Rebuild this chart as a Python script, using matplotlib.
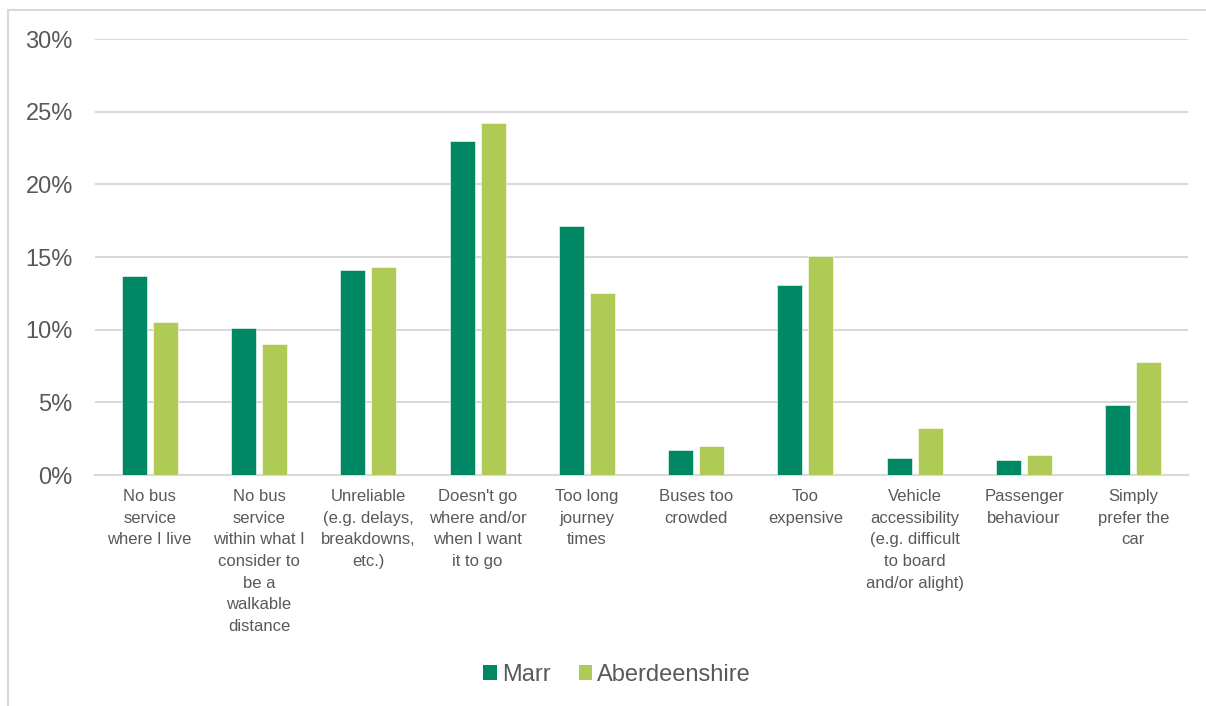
import matplotlib
matplotlib.use("Agg")
import matplotlib.pyplot as plt
from matplotlib.lines import Line2D
from matplotlib.patches import Patch
from matplotlib.ticker import FuncFormatter, MultipleLocator
import numpy as np

plt.rcParams["font.family"] = ["Liberation Sans", "DejaVu Sans"]

categories = [
    "No bus\nservice\nwhere I live",
    "No bus\nservice\nwithin what I\nconsider to\nbe a\nwalkable\ndistance",
    "Unreliable\n(e.g. delays,\nbreakdowns,\netc.)",
    "Doesn't go\nwhere and/or\nwhen I want\nit to go",
    "Too long\njourney\ntimes",
    "Buses too\ncrowded",
    "Too\nexpensive",
    "Vehicle\naccessibility\n(e.g. difficult\nto board\nand/or alight)",
    "Passenger\nbehaviour",
    "Simply\nprefer the\ncar",
]
marr = [13.7, 10.1, 14.1, 23.0, 17.1, 1.7, 13.1, 1.2, 1.05, 4.85]
aberdeenshire = [10.5, 9.0, 14.3, 24.2, 12.5, 2.0, 15.1, 3.2, 1.35, 7.8]
series_names = ["Marr", "Aberdeenshire"]

MARR_COLOR = "#008764"
ABER_COLOR = "#b0cb55"
GRID_COLOR = "#d9d9d9"
TEXT_COLOR = "#595959"

W, H = 1206, 706
fig = plt.figure(figsize=(W / 100, H / 100), dpi=100)
ax = fig.add_axes([95 / W, 1 - 475 / H, (1188 - 95) / W, (475 - 39) / H])

x = np.arange(len(categories))
width = 0.229
offset = 0.142
ax.bar(x - offset, marr, width, color=MARR_COLOR, edgecolor="white", linewidth=0.4, zorder=3)
ax.bar(x + offset, aberdeenshire, width, color=ABER_COLOR, edgecolor="white", linewidth=0.4, zorder=3)

ax.set_xlim(-0.5, len(categories) - 0.5)
ax.set_ylim(0, 30)
ax.yaxis.set_major_locator(MultipleLocator(5))
ax.yaxis.set_major_formatter(FuncFormatter(lambda v, _: f"{v:.0f}%"))
ax.grid(axis="y", color=GRID_COLOR, linewidth=1.5, zorder=0)
ax.set_axisbelow(True)
for side in ["top", "right", "left"]:
    ax.spines[side].set_visible(False)
ax.spines["bottom"].set_color(GRID_COLOR)
ax.spines["bottom"].set_linewidth(1.5)

ax.set_xticks(x)
ax.set_xticklabels(categories, fontsize=12, color=TEXT_COLOR, linespacing=1.56, va="top")
ax.tick_params(axis="x", length=0, pad=10)
ax.tick_params(axis="y", length=0, pad=16, labelsize=17, labelcolor=TEXT_COLOR)

handles = [
    Patch(facecolor=MARR_COLOR, edgecolor="none"),
    Patch(facecolor=ABER_COLOR, edgecolor="none"),
]
leg = fig.legend(
    handles, series_names, loc="center", bbox_to_anchor=(617 / W, 1 - 675 / H),
    ncol=2, frameon=False, fontsize=17, handlelength=0.58, handleheight=0.58,
    handletextpad=0.2, columnspacing=1.2,
)
for t in leg.get_texts():
    t.set_color(TEXT_COLOR)

# outer chart frame (left and top edges)
fig.add_artist(Line2D([7.5 / W, 7.5 / W], [0, 1 - 9.5 / H], transform=fig.transFigure,
                      color=GRID_COLOR, linewidth=1.5))
fig.add_artist(Line2D([7.5 / W, 1], [1 - 9.5 / H, 1 - 9.5 / H], transform=fig.transFigure,
                      color=GRID_COLOR, linewidth=1.5))

fig.savefig("out.png", dpi=100, facecolor="white")
